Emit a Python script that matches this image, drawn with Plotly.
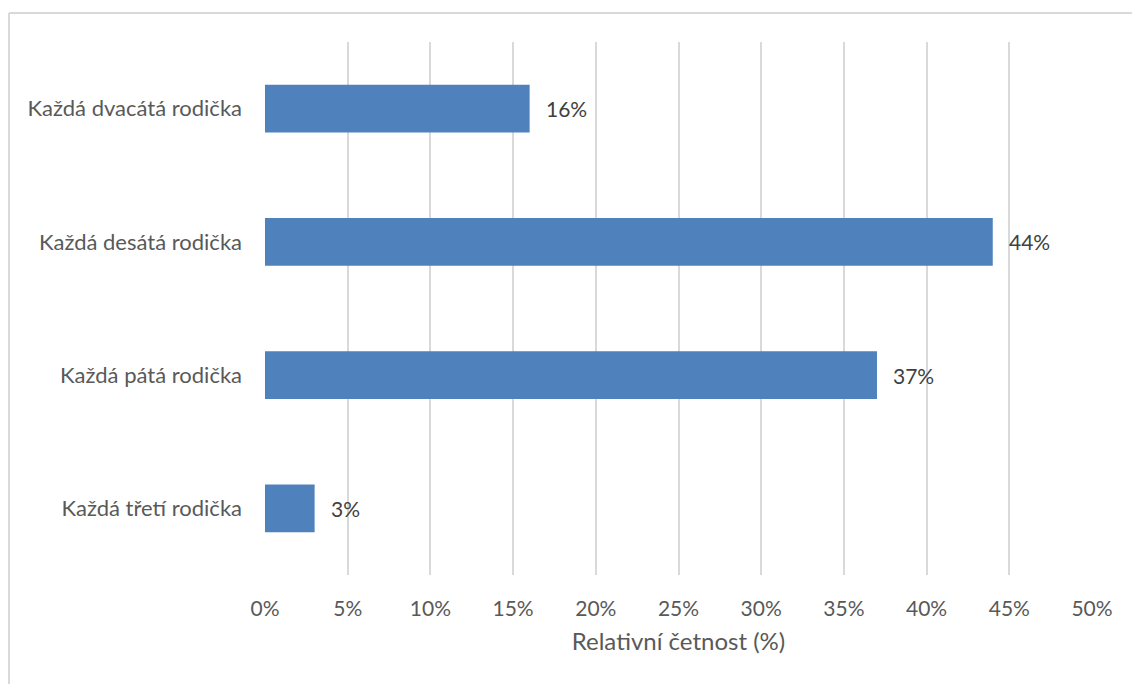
import plotly.graph_objects as go

# Relative frequency of answers, plotted top-to-bottom in this order
categories = [
    "Každá dvacátá rodička",
    "Každá desátá rodička",
    "Každá pátá rodička",
    "Každá třetí rodička",
]
values = [16, 44, 37, 3]
x_ticks = list(range(0, 51, 5))
x_tick_labels = [f"{t}%" for t in x_ticks]

W, H = 1132, 684
L, R, T, B = 265, 40, 42, 109

FONT = "Lato"
TEXT = "#595959"
BAR = "#4f81bd"
GRID = "#d9d9d9"

fig = go.Figure(
    go.Bar(
        x=values,
        y=categories,
        orientation="h",
        marker=dict(color=BAR, line=dict(width=0)),
        hoverinfo="skip",
    )
)

# value labels just past the end of each bar
for cat, v in zip(categories, values):
    fig.add_annotation(
        x=v, y=cat, text=f"{v}%", showarrow=False,
        xanchor="left", yanchor="middle", xshift=14,
        font=dict(family=FONT, size=21, color="#404040"),
    )

# chart-area frame (top and left edges)
pw, ph = W - L - R, H - T - B
def px_x(px):
    return (px - L) / pw
def px_y(py):
    return 1 - (py - T) / ph

fig.add_shape(type="line", xref="paper", yref="paper",
              x0=px_x(9), x1=px_x(W + 5), y0=px_y(13), y1=px_y(13),
              line=dict(color=GRID, width=2))
fig.add_shape(type="line", xref="paper", yref="paper",
              x0=px_x(9), x1=px_x(9), y0=px_y(13), y1=px_y(H + 5),
              line=dict(color=GRID, width=2))

fig.update_layout(
    width=W, height=H,
    margin=dict(l=L, r=R, t=T, b=B),
    paper_bgcolor="white", plot_bgcolor="white",
    bargap=0.64,
    showlegend=False,
    font=dict(family=FONT, size=21, color=TEXT),
    xaxis=dict(
        range=[0, 50],
        tickvals=x_ticks, ticktext=x_tick_labels,
        showgrid=True, gridcolor=GRID, gridwidth=1.5,
        zeroline=False, showline=False, ticks="",
        ticklabelstandoff=19,
        tickfont=dict(family=FONT, size=21, color=TEXT),
        title=dict(text="Relativní četnost (%)", standoff=14,
                   font=dict(family=FONT, size=24, color=TEXT)),
        fixedrange=True,
    ),
    yaxis=dict(
        categoryorder="array", categoryarray=categories[::-1],
        showgrid=False, zeroline=False, showline=False, ticks="",
        ticklabelstandoff=22,
        tickfont=dict(family=FONT, size=22, color=TEXT),
        fixedrange=True,
    ),
)

fig.write_html("out.html")
